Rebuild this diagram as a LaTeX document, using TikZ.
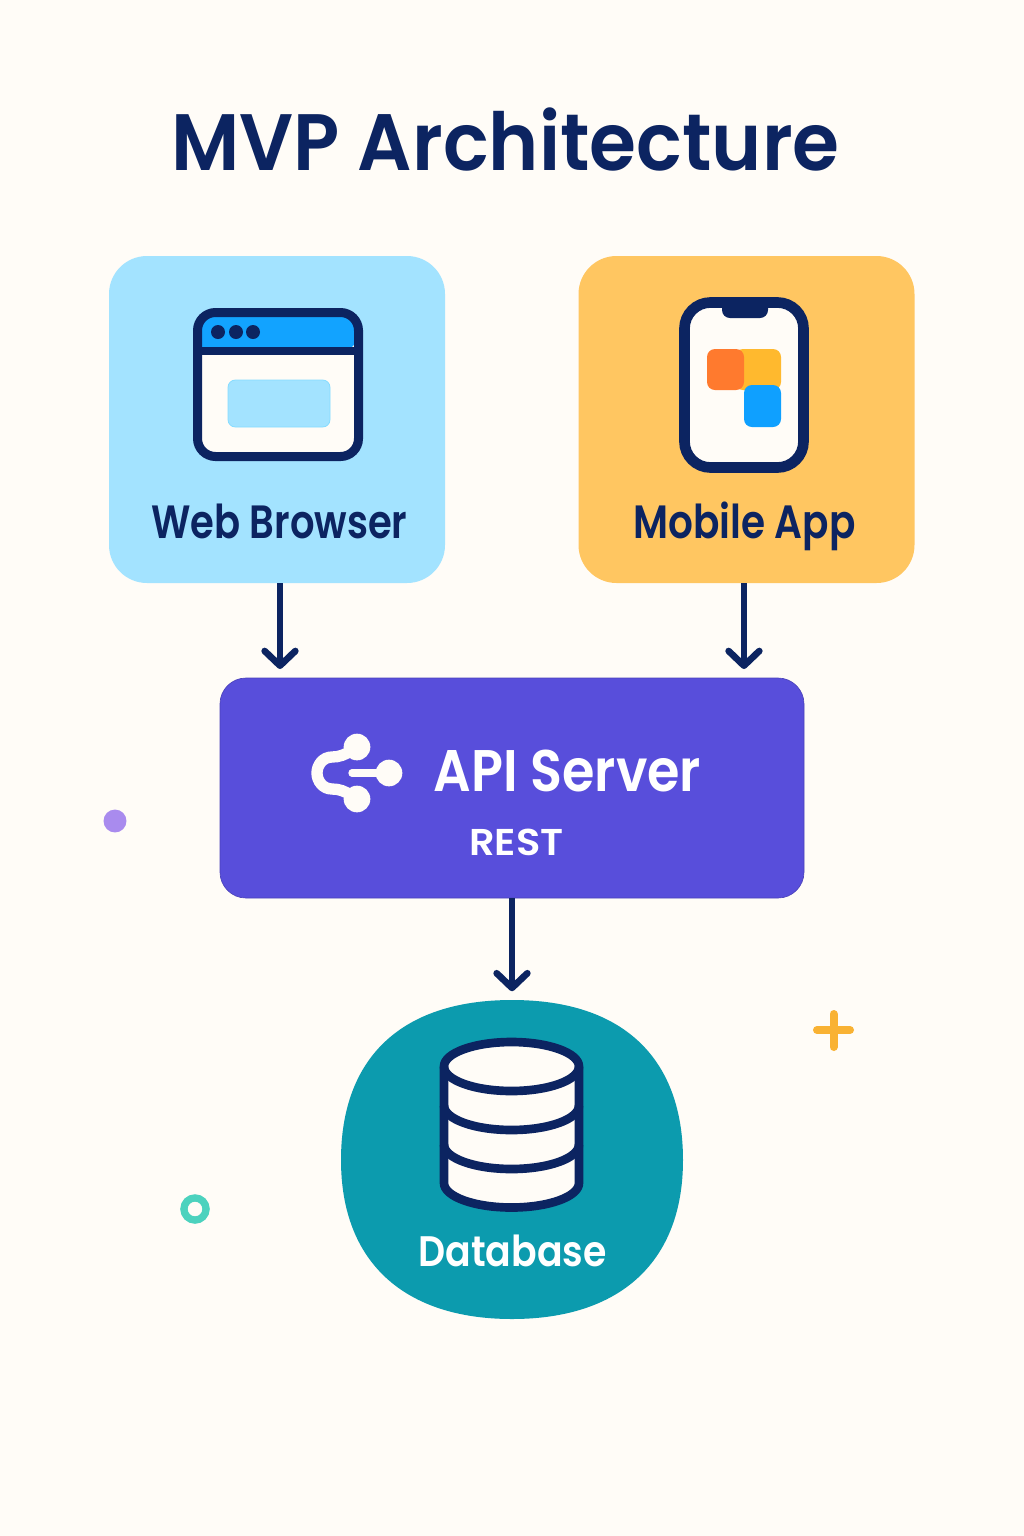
\documentclass[tikz,border=0pt]{standalone}
\usepackage{fontspec}
\setmainfont{Poppins}[BoldFont=Poppins SemiBold]
\usetikzlibrary{arrows.meta,
                positioning}
\definecolor{paper}{HTML}{FFFCF7}
\definecolor{navy}{HTML}{0C2461}
\definecolor{skyfill}{HTML}{A3E3FF}
\definecolor{skyline}{HTML}{86DCFF}
\definecolor{amberfill}{HTML}{FFC661}
\definecolor{apifill}{HTML}{584EDB}
\definecolor{tealfill}{HTML}{0C9BAE}
\definecolor{barblue}{HTML}{12A3FF}
\definecolor{tileamber}{HTML}{FFB92E}
\definecolor{tileorange}{HTML}{FF7A2E}
\definecolor{tileblue}{HTML}{0FA0FF}
\definecolor{dotviolet}{HTML}{A98BEE}
\definecolor{ringteal}{HTML}{4CD2BE}
\definecolor{plusamber}{HTML}{F9B233}
% text at size #1, squeezed sideways by #2
\newcommand{\lbl}[3]{\fontsize{#1}{#1}\selectfont\bfseries\scalebox{#2}[1]{#3}}

\begin{document}
\begin{tikzpicture}[
x=0.75pt, y=-0.75pt,
   card/.style = {rectangle, rounded corners=28.5pt, inner sep=0pt,
                  minimum width=252pt, minimum height=245.25pt},
    txt/.style = {anchor=base, inner sep=0pt},
   link/.style = {draw=navy, line width=5pt,
                  -{Straight Barb[length=11pt, width=23pt, round]},
                  shorten >=6.5pt},
   tile/.style = {rounded corners=6pt},
    cyl/.style = {draw=navy, line width=6.5pt},
                        ]
\fill[paper] (0,0) rectangle (1024,1536);
\useasboundingbox (0,0) rectangle (1024,1536);

\node[txt, text=navy] (title) at (505.5,170) {\lbl{60}{0.95}{MVP Architecture}};

% boxes
\node[card, fill=skyfill]   (browser) at (277,419.5) {};
\node[card, fill=amberfill] (mobile)  at (746.5,419.5) {};
\node[rectangle, rounded corners=19.5pt, fill=apifill, draw=apifill!85!black, line width=.5pt,
      minimum width=438pt, minimum height=165pt] (api) at (512,788) {};
\fill[tealfill] (512,1000) .. controls (625,1000) and (683,1060) .. (683,1160)
                           .. controls (683,1262) and (620,1319) .. (512,1319)
                           .. controls (404,1319) and (341,1262) .. (341,1160)
                           .. controls (341,1060) and (399,1000) .. (512,1000) -- cycle;
\node[inner sep=0pt, minimum width=257pt, minimum height=239pt] (db) at (512,1159.5) {};

% labels
\node[txt, text=navy]  (browserlbl) at (279.5,538) {\lbl{35}{0.825}{Web Browser}};
\node[txt, text=navy]  (mobilelbl)  at (744.5,538) {\lbl{35}{0.835}{Mobile App}};
\node[txt, text=white] (apilbl)     at (567.5,791) {\lbl{44}{0.895}{API Server}};
\node[txt, text=white] (restlbl)    at (516.5,855) {\lbl{28}{1.07}{REST}};
\node[txt, text=white] (dblbl)      at (512.5,1266) {\lbl{32}{0.886}{Database}};

% connectors
\draw[link] ([xshift=2.25pt]browser.south) -- ([xshift=2.25pt]browser.south |- api.north);
\draw[link] ([xshift=-1.9pt]mobile.south)  -- ([xshift=-1.9pt]mobile.south |- api.north);
\draw[link] (api.south) -- (db.north);

% browser icon
\fill[paper, rounded corners=13.5pt] (197.5,312.5) rectangle (358.5,456.5);
\fill[barblue, rounded corners=13.5pt]
    (197.5,351) -- (197.5,312.5) -- (358.5,312.5) -- (358.5,351) [sharp corners] -- cycle;
\draw[navy, line width=6.5pt] (197.5,351) -- (358.5,351);
\draw[navy, line width=6.75pt, rounded corners=13.5pt] (197.5,312.5) rectangle (358.5,456.5);
\foreach \i in {218,236,253}
    \fill[navy] (\i,332) circle (5.25pt);
\filldraw[fill=skyfill, draw=skyline, line width=.6pt, rounded corners=5.5pt]
    (228,380) rectangle (330,427);

% phone icon
\filldraw[fill=paper, draw=navy, line width=8pt, rounded corners=19.5pt] (684.5,302.5) rectangle (803.5,467.5);
\fill[navy, rounded corners=6pt] (722,300) -- (722,318) -- (768,318) -- (768,300) -- cycle;
\fill[tile, tileamber]  (735,349) rectangle (781,390);
\fill[tile, tileorange] (707,349) rectangle (744,390);
\fill[tile, tileblue]   (744,385) rectangle (781,427);

% share icon
\draw[paper, line width=8.5pt, line cap=round]
    (352,750) .. controls (345,755) and (339,757) .. (332,757)
              .. controls (323,757) and (317,765) .. (317,773)
              .. controls (317,781) and (323,789) .. (332,789)
              .. controls (339,789) and (345,791) .. (352,796);
\draw[paper, line width=5.5pt, line cap=round] (352,773) -- (389,773);
\foreach \x/\y in {357/747, 357/799, 389/773}
    \fill[paper] (\x,\y) circle (10pt);

% database icon
\filldraw[fill=paper, cyl]
    (444,1066.5) arc[start angle=180, end angle=360, x radius=67.5, y radius=24.5]
    -- (579,1183) arc[start angle=0, end angle=180, x radius=67.5, y radius=24.5] -- cycle;
\foreach \i in {1066.5,1105.5,1144.5}
    \draw[cyl] (444,\i) arc[start angle=180, end angle=0, x radius=67.5, y radius=24.5];

% decoration
\fill[dotviolet] (115,821) circle (8.6pt);
\draw[ringteal, line width=5.5pt] (195,1209) circle (8.3pt);
\draw[plusamber, line width=6pt, line cap=round]
    (817,1030) -- (850,1030) (833.5,1014) -- (833.5,1047);
\end{tikzpicture}
\end{document}
